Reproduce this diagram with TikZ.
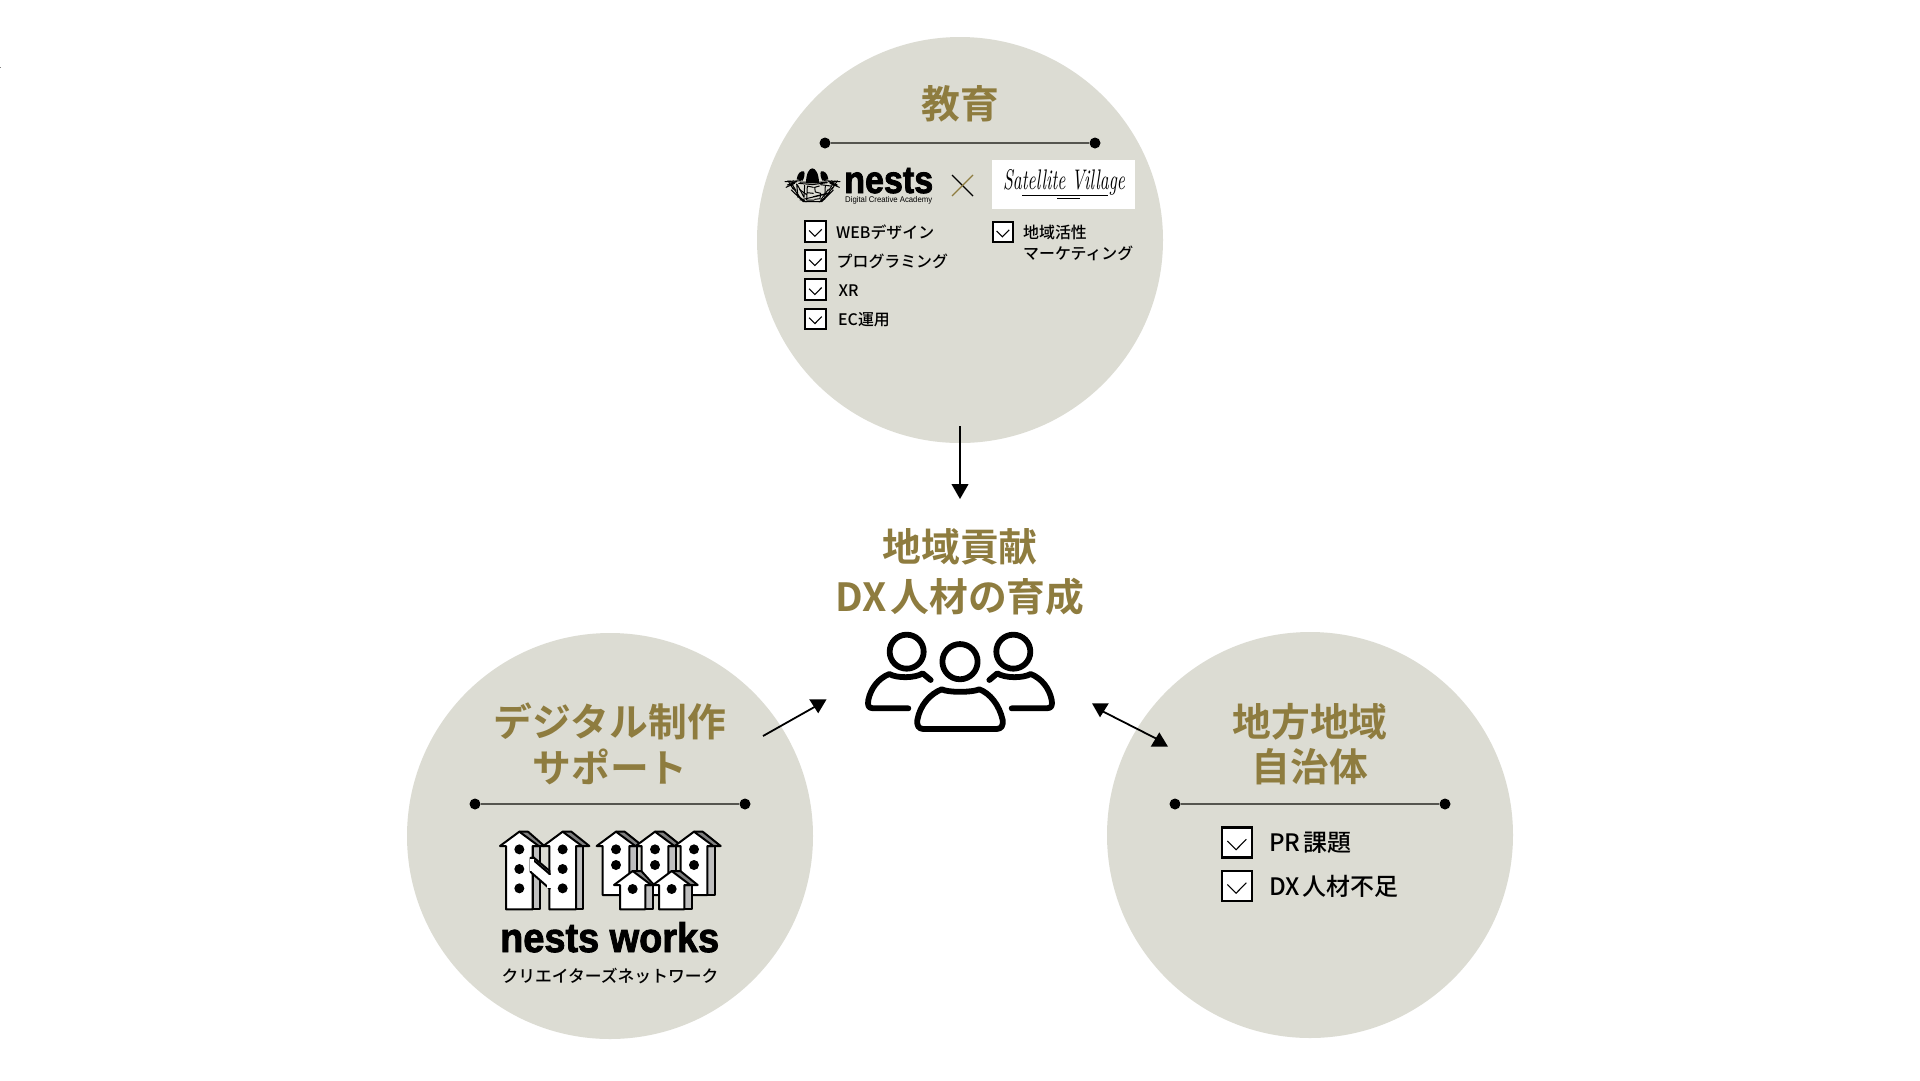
\documentclass[tikz,border=0pt]{standalone}
\usepackage{fontspec}
\usepackage{graphicx}
\newfontfamily\jpbold{Noto Sans CJK JP Bold}
\newfontfamily\jpmed{Noto Sans CJK JP Medium}
\newfontfamily\heavyfont[FakeBold=2.2]{Liberation Sans Bold}
\newfontfamily\latinsmall{Liberation Sans}
\definecolor{disc}{HTML}{DCDCD3}
\definecolor{gold}{HTML}{8E7C3F}
\definecolor{rulegrey}{HTML}{55554F}
\tikzset{
  discnode/.style={circle,fill=disc,minimum size=406pt,inner sep=0pt,draw=none},
  titletext/.style={font=\jpbold\fontsize{38.8}{45.5}\selectfont,text=gold,inner sep=0pt,align=center},
  smalltext/.style={font=\jpmed\fontsize{15.9}{19}\selectfont,text=black,inner sep=0pt,anchor=west},
  bigtext/.style={font=\jpmed\fontsize{24}{28}\selectfont,text=black,inner sep=0pt,anchor=west},
  dotnode/.style={circle,fill=black,minimum size=11pt,inner sep=0pt},
  rulerline/.style={draw=rulegrey,line width=1.5pt},
  arrowline/.style={draw=black,line width=1.8pt},
  headtri/.style={fill=black,draw=none},
  boxsmall/.style={rectangle,fill=white,draw=black,line width=2pt,minimum size=20.5pt,inner sep=0pt},
  boxbig/.style={rectangle,fill=white,draw=black,line width=2.6pt,minimum size=30pt,inner sep=0pt},
  checkline/.style={draw=black,line width=1.1pt},
  iconline/.style={draw=black,line width=5.8pt,line cap=round,line join=round},
  houseline/.style={draw=black,line width=2pt,line join=round},
  nestline/.style={draw=black,line width=1pt,line cap=round,line join=round},
}
% name, x, y, half-size, style
\newcommand{\chkbox}[5]{%
  \node[#5] (#1) at (#2,#3) {};
  \draw[checkline] ($(#1.center)+(-#4*0.64,-#4*0.10)$) -- ($(#1.center)+(-#4*0.06,#4*0.48)$) -- ($(#1.center)+(#4*0.62,-#4*0.22)$);
}
% apex x, apex y, half width, eave y, bottom y, depth, right tip offset
\newcommand{\birdhouse}[7]{%
  \fill[fill=black!25] (#1+#3,#4) rectangle (#1+#3+#6,#5);
  \draw[houseline] (#1+#3,#4) rectangle (#1+#3+#6,#5);
  \filldraw[houseline,fill=black!50] (#1,#2) -- (#1+26,#2) -- (#1+#7,#4) -- (#1+#3,#4) -- cycle;
  \filldraw[houseline,fill=white] (#1,#2) -- (#1-#3-18,#4) -- (#1-#3,#4) -- (#1-#3,#5) -- (#1+#3,#5) -- (#1+#3,#4) -- (#1+#3+18,#4) -- cycle;
}
\usetikzlibrary{calc}
\begin{document}
\begin{tikzpicture}[x=1pt,y=-1pt]
\useasboundingbox (0,0) rectangle (1920,1080);
\fill[white] (0,0) rectangle (1920,1080);
\fill[black!50] (0,67) rectangle (1,68);

% discs
\node[discnode] (top) at (960,240) {};
\node[discnode] (left) at (610,836) {};
\node[discnode] (right) at (1310,835) {};

% titles
\node[titletext] (ttop) at (960,103.5) {教育};
\node[titletext] (tcentre) at (960,572) {地域貢献\\[5pt]DX\kern4pt 人材の育成};
\node[titletext] (tleft) at (610,744) {デジタル制作\\サポート};
\node[titletext] (tright) at (1310,744) {地方地域\\自治体};

% rulers
\node[dotnode] (ta) at (825,143) {};
\node[dotnode] (tb) at (1095,143) {};
\draw[rulerline] (ta) -- (tb);
\node[dotnode] (la) at (475,804) {};
\node[dotnode] (lb) at (745,804) {};
\draw[rulerline] (la) -- (lb);
\node[dotnode] (ra) at (1175,804) {};
\node[dotnode] (rb) at (1445,804) {};
\draw[rulerline] (ra) -- (rb);

% arrows
\coordinate (a1s) at (960,426);
\coordinate (a1e) at (960,485);
\draw[arrowline] (a1s) -- (a1e);
\fill[headtri] (a1e) ++(-8.6,-1) -- ++(17.2,0) -- ++(-8.6,15) -- cycle;
\coordinate (a2s) at (763,736);
\coordinate (a2e) at (818,705);
\draw[arrowline] (a2s) -- (a2e);
\fill[headtri] (a2e) ++(-8.8,-5.7) -- ++(17.4,0) -- ++(-8.4,14) -- cycle;
\coordinate (a3s) at (1100,710);
\coordinate (a3e) at (1159,740);
\draw[arrowline] (a3s) -- (a3e);
\fill[headtri] (a3s) ++(-8,-6.7) -- ++(16.8,0) -- ++(-8.8,14) -- cycle;
\fill[headtri] (a3e) ++(-8.3,6.7) -- ++(17.3,0) -- ++(-8.7,-14.4) -- cycle;

% people icon
\begin{scope}[shift={(840,620)},x=0.33333pt,y=-0.33333pt]
  \draw[iconline] (360,125) circle (17.6pt);
  \draw[iconline] (250,327) -- (470,327) .. controls (485,327) and (490,315) .. (488,300) .. controls (478,255) and (450,220) .. (418,208) .. controls (395,218) and (325,218) .. (305,208) .. controls (270,222) and (240,255) .. (232,300) .. controls (230,315) and (235,327) .. (250,327) -- cycle;
  \draw[iconline] (200,95) circle (17pt);
  \draw[iconline] (205,265) -- (100,265) .. controls (85,265) and (82,255) .. (85,240) .. controls (92,205) and (115,175) .. (148,162) .. controls (170,175) and (225,175) .. (248,160) -- (272,180);
  \begin{scope}[shift={(720,0)},xscale=-1]
    \draw[iconline] (200,95) circle (17pt);
    \draw[iconline] (205,265) -- (100,265) .. controls (85,265) and (82,255) .. (85,240) .. controls (92,205) and (115,175) .. (148,162) .. controls (170,175) and (225,175) .. (248,160) -- (272,180);
  \end{scope}
\end{scope}

% nests logo
\begin{scope}[shift={(780,150)},x=0.33333pt,y=-0.33333pt]
  \fill[black] (78,100) .. controls (78,70) and (88,55) .. (97,55) .. controls (106,55) and (117,70) .. (117,100) -- cycle;
  \fill[black] (50,88) .. controls (52,70) and (62,62) .. (72,64) .. controls (76,72) and (72,84) .. (68,92) -- cycle;
  \fill[black] (145,88) .. controls (143,70) and (133,62) .. (123,64) .. controls (119,72) and (123,84) .. (127,92) -- cycle;
  \draw[nestline] (15,95) -- (62,92) (22,105) -- (50,95) (30,92) -- (48,122) (40,92) -- (34,108) (18,112) -- (44,100) (24,92) -- (40,118);
  \draw[nestline] (180,95) -- (132,92) (172,105) -- (146,95) (165,92) -- (146,122) (155,92) -- (162,108) (178,112) -- (150,100) (172,92) -- (156,118);
  \draw[nestline] (34,120) -- (70,155) -- (125,155) -- (160,120) (44,130) -- (78,156) (150,130) -- (118,156) (38,112) -- (66,150) (158,112) -- (130,150);
  \draw[nestline] (50,102) -- (54,142) (52,104) -- (72,142) -- (74,106);
  \draw[nestline] (82,108) -- (80,150) (82,108) -- (100,112) (81,128) -- (100,130) (80,150) -- (102,150);
  \draw[nestline] (118,108) -- (104,112) -- (106,126) -- (122,130) -- (120,146) -- (104,148);
  \draw[nestline] (122,104) -- (152,108) (136,106) -- (134,148);
  \draw[nestline] (60,96) -- (140,96) (56,100) -- (100,104) (142,98) -- (96,104) (145,118) -- (122,150);
  \draw[nestline] (60,150) -- (140,132) (58,118) -- (80,134) (100,140) -- (150,128);
\end{scope}
\node[inner sep=0pt,anchor=base west] (nestsword) at (844,193) {\resizebox{89pt}{25pt}{\heavyfont\fontsize{36}{36}\selectfont nests}};
\node[inner sep=0pt,anchor=base west] (nestssub) at (845,202) {\resizebox{87pt}{6pt}{\latinsmall\fontsize{7}{7}\selectfont Digital Creative Academy}};

% cross
\coordinate (xa) at (952,175);
\coordinate (xb) at (973,196);
\coordinate (xc) at (952,196);
\coordinate (xd) at (973,175);
\draw[draw=black,line width=1.1pt] (xa) -- (xb);
\draw[draw=gold,line width=1.3pt] (xc) -- (xd);

% Satellite Village
\node[rectangle,fill=white,minimum width=143pt,minimum height=49pt,inner sep=0pt] (sv) at (1063.5,184.5) {};
\node[inner sep=0pt] (svtext) at (1064,182) {\resizebox{122pt}{20pt}{\itshape Satellite Village}};
\coordinate (u1) at (1022,195.5);
\coordinate (u2) at (1108,195.5);
\coordinate (u3) at (1057,198);
\coordinate (u4) at (1080,198);
\draw[draw=black,line width=0.5pt] (u1) -- (u2);
\draw[draw=black,line width=1pt] (u3) -- (u4);

% education checks
\chkbox{c1}{815.5}{231.5}{10}{boxsmall}
\chkbox{c2}{815.5}{260.7}{10}{boxsmall}
\chkbox{c3}{815.5}{289.7}{10}{boxsmall}
\chkbox{c4}{815.5}{318.8}{10}{boxsmall}
\chkbox{c5}{1003}{232}{10}{boxsmall}
\node[smalltext] (l1) at (836,232) {WEBデザイン};
\node[smalltext] (l2) at (836.5,261.5) {プログラミング};
\node[smalltext] (l3) at (838.5,290.5) {XR};
\node[smalltext] (l4) at (838,319.5) {EC運用};
\node[smalltext] (l5) at (1023,232) {地域活性};
\node[smalltext] (l6) at (1023,253) {マーケティング};

% right disc checks
\chkbox{d1}{1237}{842.5}{15}{boxbig}
\chkbox{d2}{1237}{886}{15}{boxbig}
\node[bigtext] (m1) at (1269,843) {PR\kern3pt 課題};
\node[bigtext] (m2) at (1269,886.5) {DX\kern3pt 人材不足};

% nests works logo
\begin{scope}[shift={(480,810)},x=0.33333pt,y=-0.33333pt]
  \birdhouse{118}{65}{40}{108}{298}{22}{75}
  \birdhouse{248}{65}{40}{108}{298}{22}{80}
  \filldraw[houseline,fill=black!25] (158,140) -- (208,182) -- (208,200) -- (158,160) -- cycle;
  \filldraw[houseline,fill=white] (152,143) -- (209,192) -- (209,236) -- (152,186) -- cycle;
  \draw[draw=white,line width=4pt] (155,147) -- (155,184);
  \draw[draw=white,line width=4pt] (208,194) -- (208,234);
  \foreach \px/\py in {118/118,118/177,118/235,248/118,248/177,248/235}{\fill[black] (\px,\py) circle (5pt);}
  \birdhouse{408}{65}{40}{108}{255}{22}{80}
  \birdhouse{525}{65}{40}{108}{255}{22}{80}
  \birdhouse{642}{65}{40}{108}{255}{22}{80}
  \foreach \px/\py in {408/118,408/165,525/118,525/165,642/118,642/165}{\fill[black] (\px,\py) circle (5pt);}
  \birdhouse{458}{183}{38}{225}{298}{22}{64}
  \birdhouse{575}{183}{38}{225}{298}{22}{78}
  \foreach \px/\py in {458/237,575/237}{\fill[black] (\px,\py) circle (5pt);}
\end{scope}
\node[inner sep=0pt,anchor=base west] (nw) at (500,952) {\resizebox{219pt}{30pt}{\heavyfont\fontsize{40}{40}\selectfont nests works}};
\node[inner sep=0pt,anchor=center] (nw2) at (610,976) {\jpmed\fontsize{16.8}{18}\selectfont クリエイターズネットワーク};
\end{tikzpicture}
\end{document}
